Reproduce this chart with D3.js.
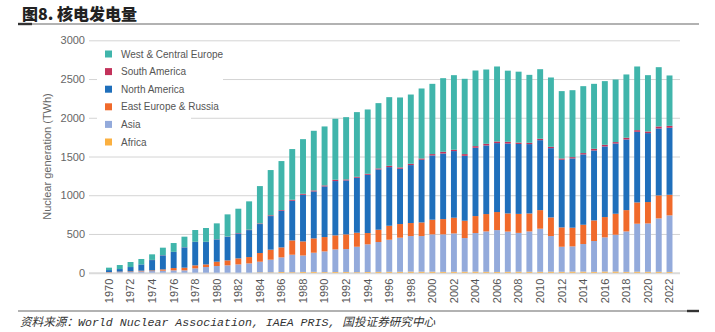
<!DOCTYPE html>
<html>
<head>
<meta charset="utf-8">
<script src="https://cdn.jsdelivr.net/npm/d3@7"></script>
<style>
  html, body { margin: 0; padding: 0; background: #fff; }
  svg { display: block; }
</style>
</head>
<body>
<svg id="chart" width="715" height="332"></svg>
<script>
// Nuclear generation by region, TWh
const years = d3.range(1970, 2023);
const tickYears = years.filter(y => y % 2 === 0);
const yTicks = [0, 500, 1000, 1500, 2000, 2500, 3000];

const africa = [0,0,0,0,0,0,0,0,0,0,0,0,0,0,5,5,9,7,10,11,8,9,10,7,9,11,12,12,14,13,13,11,12,13,14,12,10,12,13,12,12,13,12,14,14,11,15,15,11,13,12,12,10];
const asia = [4,8,10,17,21,26,30,30,56,73,86,95,107,120,137,163,189,225,212,247,267,292,295,328,357,385,414,440,459,460,482,484,495,434,498,521,540,519,501,521,556,460,323,326,356,398,441,475,522,619,624,689,730];
const eastEuropeRussia = [4,6,7,9,9,17,30,35,39,34,56,64,78,82,112,129,129,185,182,185,185,181,190,181,146,159,180,176,168,176,189,197,203,224,219,224,233,234,245,232,240,241,250,241,249,266,262,271,275,275,276,297,266];
const northAmerica = [26,33,56,81,133,181,207,262,301,289,288,305,322,348,374,434,473,512,602,606,654,701,696,710,752,778,757,714,748,809,830,847,860,838,882,886,890,903,903,895,903,894,873,894,908,903,912,907,912,912,890,864,865];
const southAmerica = [0,0,0,0,2,2,2,2,3,3,2,3,5,5,8,10,9,13,13,13,13,17,13,12,13,13,17,17,17,17,17,22,17,22,21,21,21,22,18,17,18,17,17,17,17,22,21,18,22,21,21,26,25];
const westCentralEurope = [31,52,65,70,72,97,114,136,152,178,205,286,314,366,482,584,632,654,705,770,761,787,804,835,830,843,886,903,894,903,907,950,963,972,976,959,968,918,915,877,898,895,869,864,864,838,822,808,817,822,727,765,650];

const seriesNames = ["Africa", "Asia", "East Europe & Russia", "North America", "South America", "West & Central Europe"];
const seriesValues = [africa, asia, eastEuropeRussia, northAmerica, southAmerica, westCentralEurope];
const seriesColors = ["#fbb040", "#93aadb", "#f06a2b", "#1f6fbb", "#c3325b", "#40b5ab"];

const rows = years.map((yr, i) => {
  const r = { year: yr };
  seriesNames.forEach((n, k) => { r[n] = seriesValues[k][i]; });
  return r;
});

const svg = d3.select("#chart");

// Header and footer rules
svg.append("line").attr("x1", 18).attr("x2", 699).attr("y1", 24).attr("y2", 24)
  .attr("stroke", "#666").attr("stroke-width", 1.2);
svg.append("line").attr("x1", 18).attr("x2", 32).attr("y1", 24).attr("y2", 24)
  .attr("stroke", "#333").attr("stroke-width", 2.4);
svg.append("text").attr("x", 22).attr("y", 20)
  .attr("font-family", "'Noto Sans CJK SC', sans-serif").attr("font-weight", 900)
  .attr("font-size", 16).attr("fill", "#222").text("图8. 核电发电量");

svg.append("line").attr("x1", 18).attr("x2", 699).attr("y1", 311).attr("y2", 311)
  .attr("stroke", "#666").attr("stroke-width", 1.2);
svg.append("line").attr("x1", 687).attr("x2", 699).attr("y1", 311).attr("y2", 311)
  .attr("stroke", "#333").attr("stroke-width", 2.4);
svg.append("text").attr("x", 20).attr("y", 326)
  .attr("font-family", "'Liberation Mono', 'Noto Sans CJK SC', monospace")
  .attr("font-style", "italic").attr("font-size", 11.6).attr("fill", "#333")
  .text("资料来源：World Nuclear Association, IAEA PRIS, 国投证券研究中心");

// Scales
const x = d3.scaleBand().domain(years).range([103.6, 674.9]).paddingInner(0.45).paddingOuter(0.225);
const y = d3.scaleLinear().domain([0, 3000]).range([272.7, 40.3]);
const gridLeft = 89, gridRight = 680;

// Gridlines and y labels
const yAxis = svg.append("g").attr("transform", `translate(${gridLeft},0)`)
  .call(d3.axisLeft(y).tickValues(yTicks).tickFormat(d3.format("d"))
    .tickSize(-(gridRight - gridLeft)).tickPadding(4));
yAxis.select(".domain").remove();
yAxis.selectAll(".tick line").attr("stroke", "#d4d4d4").attr("stroke-width", 1);
yAxis.selectAll(".tick").filter(d => d === 0).select("line").attr("stroke", "#dadada").attr("stroke-width", 2);
yAxis.selectAll(".tick text").attr("font-family", "'Liberation Sans', Arial, sans-serif")
  .attr("font-size", 11).attr("fill", "#666");

svg.append("text")
  .attr("transform", `translate(51,${(y(0) + y(3000)) / 2}) rotate(-90)`)
  .attr("text-anchor", "middle")
  .attr("font-family", "'Liberation Sans', Arial, sans-serif").attr("font-size", 11).attr("fill", "#666")
  .text("Nuclear generation (TWh)");

// Legend backing panels (hide gridlines behind the legend)
svg.append("rect").attr("x", 97).attr("y", 44).attr("width", 126).attr("height", 68).attr("fill", "#fff");
svg.append("rect").attr("x", 97).attr("y", 112).attr("width", 94).attr("height", 40).attr("fill", "#fff");

// Stacked bars
const stack = d3.stack().keys(seriesNames)(rows);
const color = d3.scaleOrdinal().domain(seriesNames).range(seriesColors);

svg.append("g").selectAll("g").data(stack).join("g")
  .attr("fill", d => color(d.key))
  .selectAll("rect").data(d => d).join("rect")
  .attr("x", d => x(d.data.year))
  .attr("width", x.bandwidth())
  .attr("y", d => y(d[1]))
  .attr("height", d => Math.max(0, y(d[0]) - y(d[1])));

// X axis labels
const xAxis = svg.append("g").attr("transform", `translate(0,${y(0)})`)
  .call(d3.axisBottom(x).tickValues(tickYears).tickSize(0).tickPadding(0));
xAxis.select(".domain").remove();
xAxis.selectAll(".tick text")
  .attr("font-family", "'Liberation Sans', Arial, sans-serif").attr("font-size", 11).attr("fill", "#555")
  .attr("text-anchor", "end")
  .attr("dy", "0.35em")
  .attr("transform", "translate(0,6) rotate(-90)")
  .attr("x", 0).attr("y", 0);

// Legend
const legendOrder = ["West & Central Europe", "South America", "North America", "East Europe & Russia", "Asia", "Africa"];
const legend = svg.append("g").selectAll("g").data(legendOrder).join("g")
  .attr("transform", (d, i) => `translate(105,${54 + i * 17.6})`);
legend.append("rect").attr("x", 0).attr("y", -3.5).attr("width", 7).attr("height", 7).attr("fill", d => color(d));
legend.append("text").attr("x", 16).attr("y", 0).attr("dy", "0.35em")
  .attr("font-family", "'Liberation Sans', Arial, sans-serif").attr("font-size", 10).attr("fill", "#555")
  .text(d => d);
</script>
</body>
</html>
